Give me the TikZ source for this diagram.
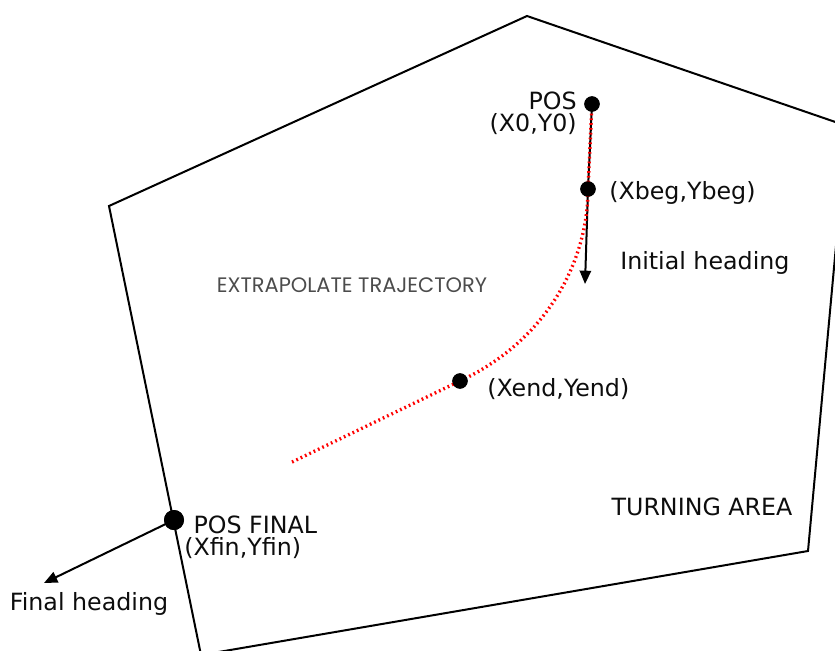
\documentclass[tikz,border=0pt]{standalone}
\usepackage{fontspec}
\setmainfont{DejaVu Sans}
\newfontfamily\notefont{Poppins}
\usepackage{tikz}
\usetikzlibrary{arrows.meta}

\tikzset{
  area/.style={line width=1.5pt},
  dot/.style={circle,fill=black,inner sep=0pt,minimum size=11.5pt},
  bigdot/.style={dot,minimum size=15pt},
  traj/.style={red,line width=2.5pt,dash pattern=on 1.3pt off 2.3pt},
  lbl/.style={font=\fontsize{17.8}{16.5}\selectfont,text=black!95,inner sep=0pt}
}

\begin{document}
\begin{tikzpicture}[x=0.75pt,y=-0.75pt,>={Triangle[length=10pt,width=8.5pt]}]
\clip (0,0) rectangle (835,650);
% turning area
\draw[area] (527,16) -- (847,126) -- (808,551) -- (201,655) -- (109,206) -- cycle;

\node[dot] (posdot) at (592,104) {};
\node[dot] (begdot) at (588,189) {};
\node[dot] (enddot) at (460,381) {};
\node[bigdot] (findot) at (174,520) {};
\coordinate (headtip) at (585,284);
\coordinate (fintip) at (44,583);
\coordinate (trajtail) at (290,463);

\draw[line width=1.5pt] (posdot.center) -- (begdot.center);
\draw[line width=1.5pt,->] (begdot.center) -- (headtip);
\draw[line width=1.5pt,->] (findot.center) -- (fintip);

\draw[traj] (posdot.center) -- (begdot.center)
  .. controls (588,260) and (548,340) .. (enddot.center) -- (trajtail);

\node[dot] at (posdot) {};
\node[dot] at (begdot) {};
\node[dot] at (enddot) {};
\node[bigdot] at (findot) {};

\node[lbl,align=right,anchor=east] (poslabel) at (577,113) {POS\\(X0,Y0)};
\node[lbl,anchor=west] (beglabel) at (609,193) {(Xbeg,Ybeg)};
\node[lbl,anchor=west] (headlabel) at (620,263) {Initial heading};
\node[lbl,anchor=west] (endlabel) at (487,389) {(Xend,Yend)};
\node[lbl] (turnlabel) at (702,507) {TURNING AREA};
\node[lbl,align=left,anchor=west] (finlabel) at (184,537) {\hspace*{7pt}POS FINAL\\(Xfin,Yfin)};
\node[lbl] (finheadlabel) at (89,604) {Final heading};
\node[font=\notefont\fontsize{15.7}{17}\selectfont,text=black!70] (extlabel) at (352,285) {EXTRAPOLATE TRAJECTORY};
\end{tikzpicture}
\end{document}
